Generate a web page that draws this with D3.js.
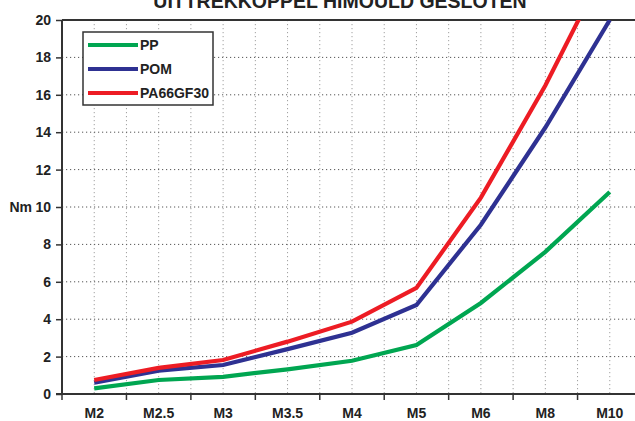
<!DOCTYPE html>
<html>
<head>
<meta charset="utf-8">
<script src="https://cdn.jsdelivr.net/npm/d3@7/dist/d3.min.js"></script>
<style>
  html, body { margin: 0; padding: 0; background: #fff; }
  svg { display: block; font-family: "Liberation Sans", Arial, Helvetica, sans-serif; }
</style>
</head>
<body>
<script>
const title = "UITTREKKOPPEL HIMOULD GESLOTEN";
const yLabel = "Nm";
const categories = ["M2", "M2.5", "M3", "M3.5", "M4", "M5", "M6", "M8", "M10"];
const seriesNames = ["PP", "POM", "PA66GF30"];
const seriesColors = ["#00a651", "#2e3192", "#ed1c24"];
const ppValues = [0.3, 0.75, 0.92, 1.32, 1.78, 2.62, 4.87, 7.6, 10.8];
const pomValues = [0.6, 1.25, 1.55, 2.4, 3.28, 4.76, 9.05, 14.25, 20.0];
const pa66Values = [0.75, 1.4, 1.82, 2.8, 3.87, 5.67, 10.5, 16.5, 23.3];
const yTicks = [0, 2, 4, 6, 8, 10, 12, 14, 16, 18, 20];

const W = 635, H = 421;
const mLeft = 62, mRight = 642, mTop = 20, mBottom = 394;

const svg = d3.select("body").append("svg").attr("width", W).attr("height", H);

const x = d3.scaleBand().domain(categories).range([mLeft, mRight]).paddingInner(0).paddingOuter(0);
const bw = x.bandwidth();
const xc = c => x(c) + bw / 2;
const y = d3.scaleLinear().domain([0, 20]).range([mBottom, mTop]);

// vertical dotted grid lines at every half band
const vLines = [];
categories.forEach((c, i) => { vLines.push(x(c) + bw / 2); if (i > 0) vLines.push(x(c)); });
svg.append("g").selectAll("line").data(vLines).join("line")
  .attr("x1", d => d).attr("x2", d => d).attr("y1", mTop).attr("y2", mBottom)
  .attr("stroke", "#a0a0a0").attr("stroke-width", 1).attr("stroke-dasharray", "1.2,2.8");

// horizontal dotted grid lines
svg.append("g").selectAll("line").data(yTicks.filter(t => t > 0)).join("line")
  .attr("x1", mLeft).attr("x2", W).attr("y1", d => y(d)).attr("y2", d => y(d))
  .attr("stroke", "#555").attr("stroke-width", 1).attr("stroke-dasharray", "1.2,2.8");

// top border
svg.append("line").attr("x1", mLeft).attr("x2", W).attr("y1", mTop).attr("y2", mTop)
  .attr("stroke", "#333").attr("stroke-width", 2);

// clip for lines
svg.append("clipPath").attr("id", "plotclip").append("rect")
  .attr("x", mLeft).attr("y", mTop).attr("width", mRight - mLeft).attr("height", mBottom - mTop);

const allSeries = [ppValues, pomValues, pa66Values];
const line = d3.line().x((d, i) => xc(categories[i])).y(d => y(d));
svg.append("g").attr("clip-path", "url(#plotclip)").selectAll("path").data(allSeries).join("path")
  .attr("d", d => line(d)).attr("fill", "none")
  .attr("stroke", (d, i) => seriesColors[i]).attr("stroke-width", 4.2)
  .attr("stroke-linejoin", "miter");

// Y axis
const yAxis = svg.append("g").attr("transform", `translate(${mLeft},0)`)
  .call(d3.axisLeft(y).tickValues(yTicks).tickSize(6).tickPadding(5).tickFormat(d3.format("d")));
yAxis.select(".domain").attr("stroke", "#333").attr("stroke-width", 2).attr("d", `M0,${mTop}V${mBottom}`);
yAxis.selectAll(".tick line").attr("stroke", "#333").attr("stroke-width", 1.5);
yAxis.selectAll(".tick text").attr("font-size", 14).attr("font-weight", "bold").attr("fill", "#222")
  .attr("font-family", "'Liberation Sans', Arial, sans-serif");

// X axis
const xAxis = svg.append("g").attr("transform", `translate(0,${mBottom})`)
  .call(d3.axisBottom(x).tickSize(0).tickPadding(14));
xAxis.select(".domain").attr("stroke", "#333").attr("stroke-width", 2).attr("d", `M${mLeft - 6},0H${W}`);
xAxis.selectAll(".tick text").attr("font-size", 14).attr("font-weight", "bold").attr("fill", "#222")
  .attr("font-family", "'Liberation Sans', Arial, sans-serif");
// boundary ticks
const bounds = categories.map(c => x(c)).concat([mRight]).filter(v => v <= W);
svg.append("g").selectAll("line").data(bounds).join("line")
  .attr("x1", d => d).attr("x2", d => d).attr("y1", mBottom).attr("y2", mBottom + 6)
  .attr("stroke", "#333").attr("stroke-width", 1.5);

// axis label
svg.append("text").attr("x", 32).attr("y", y(10)).attr("dy", "0.35em").attr("text-anchor", "end")
  .attr("font-size", 14).attr("font-weight", "bold").attr("fill", "#222").text(yLabel);

// title
svg.append("text").attr("x", 340).attr("y", 7.5).attr("text-anchor", "middle")
  .attr("font-size", 19.5).attr("font-weight", "bold").attr("fill", "#222").text(title);

// legend
const lg = svg.append("g");
lg.append("rect").attr("x", 83).attr("y", 32).attr("width", 130).attr("height", 73)
  .attr("fill", "#fff").attr("stroke", "#333").attr("stroke-width", 1.5);
const items = lg.selectAll("g.item").data(seriesNames).join("g").attr("class", "item")
  .attr("transform", (d, i) => `translate(0,${45 + i * 24})`);
items.append("line").attr("x1", 88).attr("x2", 138).attr("y1", 0).attr("y2", 0)
  .attr("stroke", (d, i) => seriesColors[i]).attr("stroke-width", 4);
items.append("text").attr("x", 140).attr("y", 0).attr("dy", "0.36em")
  .attr("font-size", 14).attr("font-weight", "bold").attr("fill", "#222").text(d => d);
</script>
</body>
</html>
